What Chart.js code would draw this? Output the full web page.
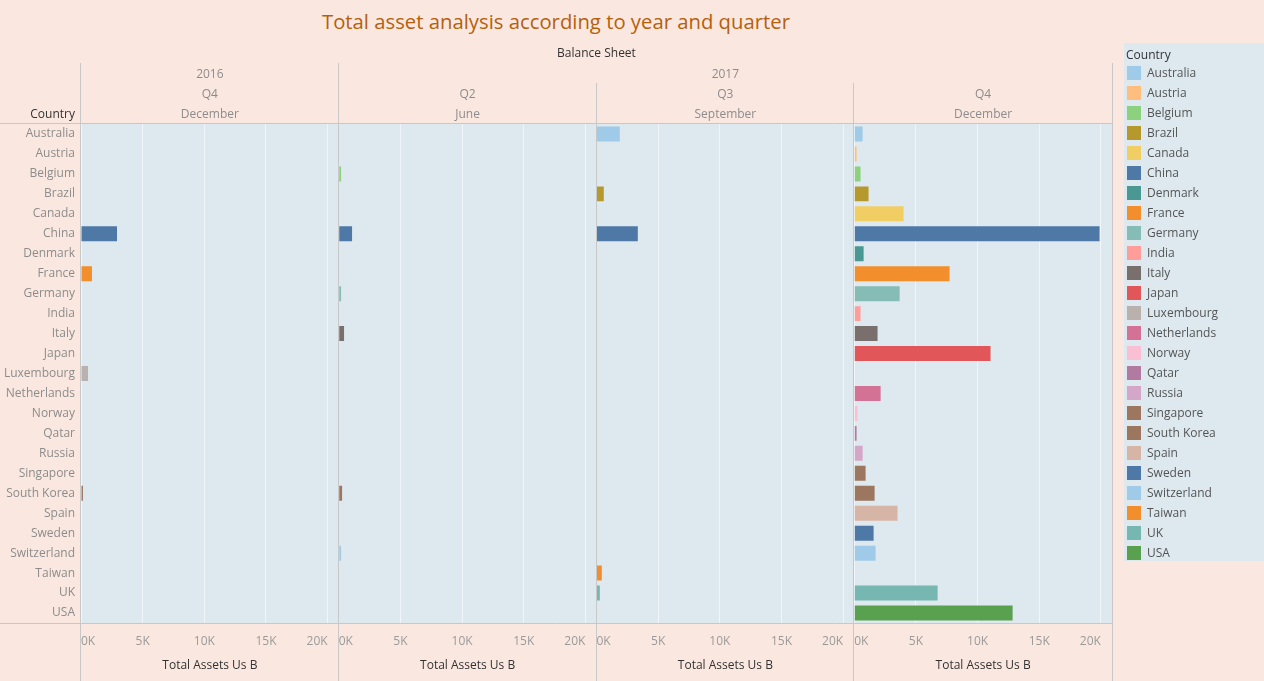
<!DOCTYPE html>
<html>
<head>
<meta charset="utf-8">
<title>Total asset analysis according to year and quarter</title>
<script src="https://cdn.jsdelivr.net/npm/chart.js@4.4.1/dist/chart.umd.min.js"></script>
<style>
  html, body { margin: 0; padding: 0; }
  body {
    width: 1264px; height: 681px; position: relative; overflow: hidden;
    background: #fae8e0; font-family: "Open Sans", sans-serif;
  }
  #chart { position: absolute; left: 0; top: 0; }
  .txt { position: absolute; white-space: nowrap; font-size: 12px; line-height: 16px; transform: translate(-50%, -50%); }
  .hdr { color: #8c8c8c; }
  .dark { color: #333; }
  #title { position: absolute; left: 322px; top: 7px; font-size: 20.3px; line-height: 28px; color: #b5600c; white-space: nowrap; }
  #legend { position: absolute; left: 1124px; top: 43px; width: 140px; height: 518px; background: #dde9ef; }
  #legend .lg-title { position: absolute; left: 2px; top: 4px; font-size: 12px; line-height: 16px; color: #333; }
  #legend .item { position: absolute; left: 3px; height: 20px; font-size: 12px; line-height: 20px; color: #555; white-space: nowrap; }
  #legend .sw { position: absolute; left: 0; top: 3px; width: 14px; height: 14px; }
  #legend .lb { position: absolute; left: 20px; top: 0; }
</style>
</head>
<body>
<div id="title">Total asset analysis according to year and quarter</div>
<canvas id="chart" width="1264" height="681"></canvas>
<div id="legend"><div class="lg-title">Country</div></div>

<script>
// ---- data (Total Assets, US$ bn) ----
const countries = ['Australia', 'Austria', 'Belgium', 'Brazil', 'Canada', 'China', 'Denmark', 'France',
    'Germany', 'India', 'Italy', 'Japan', 'Luxembourg', 'Netherlands', 'Norway', 'Qatar', 'Russia',
    'Singapore', 'South Korea', 'Spain', 'Sweden', 'Switzerland', 'Taiwan', 'UK', 'USA'];

const countryColors = ['#a0cbe8', '#ffbe7d', '#8cd17d', '#b6992d', '#f1ce63', '#4e79a7', '#499894', '#f28e2b',
    '#86bcb6', '#ff9d9a', '#79706e', '#e15759', '#bab0ac', '#d37295', '#fabfd2', '#b07aa1', '#d4a6c8',
    '#9d7660', '#9d7660', '#d7b5a6', '#4e79a7', '#a0cbe8', '#f28e2b', '#76b7b2', '#59a14f'];

const years    = ['2016', '2017'];
const quarters = ['Q4', 'Q2', 'Q3', 'Q4'];
const months   = ['December', 'June', 'September', 'December'];
const panelYear = [0, 1, 1, 1];

const dec2016 = [null, null, null, null, null, 2920, null, 890, null, null, null, null, 570, null, null, null, null,
    null, 160, null, null, null, null, null, null];
const jun2017 = [null, null, 190, null, null, 1080, null, null, 190, null, 430, null, null, null, null, null, null,
    null, 270, null, null, 190, null, null, null];
const sep2017 = [1890, null, null, 590, null, 3350, null, null, null, null, null, null, null, null, null, null, null,
    null, null, null, null, null, 430, 270, null];
const dec2017 = [680, 190, 510, 1160, 4000, 19890, 760, 7730, 3680, 510, 1890, 11050, null, 2140, 270, 190, 680,
    920, 1650, 3510, 1570, 1730, null, 6760, 12840];

const xTicks = [0, 5000, 10000, 15000, 20000];
const X_MAX = 20900;
const AXIS_TITLE = 'Total Assets Us B';

const panels = [dec2016, jun2017, sep2017, dec2017];

const FONT = '"Open Sans", sans-serif';
const PLOT_BG = '#dde9ef';
const SEP = '#c8c8c8';

// plot background + Tableau-like pane separators
const frame = {
    id: 'frame',
    beforeDraw(chart) {
        const { ctx, chartArea: a } = chart;
        ctx.save();
        ctx.fillStyle = PLOT_BG;
        ctx.fillRect(a.left, a.top, a.right - a.left, a.bottom - a.top);
        ctx.restore();
    },
    afterDraw(chart) {
        const { ctx, chartArea: a, height } = chart;
        ctx.save();
        ctx.strokeStyle = SEP;
        ctx.lineWidth = 1;
        ctx.beginPath();
        panels.forEach((p, i) => {
            const s = chart.scales['x' + i];
            const x = Math.round(s.left) - 0.5;
            const top = (i === 0 || panelYear[i] !== panelYear[i - 1]) ? 63 : 83;
            ctx.moveTo(x, top); ctx.lineTo(x, height);
        });
        const xr = Math.round(a.right) + 0.5;
        ctx.moveTo(xr, 63); ctx.lineTo(xr, height);
        ctx.moveTo(0, Math.round(a.top) - 0.5); ctx.lineTo(xr, Math.round(a.top) - 0.5);
        ctx.moveTo(0, Math.round(a.bottom) + 0.5); ctx.lineTo(xr, Math.round(a.bottom) + 0.5);
        ctx.stroke();
        ctx.restore();
    }
};

function panelScale() {
    return {
        type: 'linear',
        position: 'bottom',
        stack: 'panes',
        stackWeight: 1,
        min: 0,
        max: X_MAX,
        afterBuildTicks: s => { s.ticks = xTicks.map(v => ({ value: v })); },
        afterFit: s => { s.height = 58; },
        ticks: {
            align: 'inner',
            padding: 11,
            maxRotation: 0,
            autoSkip: false,
            color: '#9a9a9a',
            font: { family: FONT, size: 12 },
            callback: v => (v / 1000) + 'K'
        },
        grid: { color: '#f1f5f7', drawTicks: false },
        border: { display: false },
        title: {
            display: true,
            text: AXIS_TITLE,
            color: '#333',
            font: { family: FONT, size: 12 },
            padding: { top: 0, bottom: 8 }
        }
    };
}

const scales = {
    y: {
        type: 'category',
        afterFit: s => { s.width = 81; },
        ticks: { color: '#8c8c8c', padding: 6, autoSkip: false, font: { family: FONT, size: 12 } },
        grid: { display: false, drawTicks: false },
        border: { display: false }
    }
};
panels.forEach((p, i) => { scales['x' + i] = panelScale(); });

const chart = new Chart(document.getElementById('chart'), {
    type: 'bar',
    data: {
        labels: countries,
        datasets: panels.map((vals, i) => ({
            label: years[panelYear[i]] + ' ' + quarters[i] + ' ' + months[i],
            data: vals,
            xAxisID: 'x' + i,
            yAxisID: 'y',
            backgroundColor: countryColors,
            grouped: false,
            barPercentage: 0.75,
            categoryPercentage: 1,
            borderWidth: 0
        }))
    },
    options: {
        indexAxis: 'y',
        responsive: false,
        animation: false,
        layout: { padding: { left: 0, top: 124, right: 152, bottom: 0 } },
        plugins: { legend: { display: false }, tooltip: { enabled: false } },
        scales: scales
    },
    plugins: [frame]
});

// header texts placed over the panes
function addText(text, x, y, cls) {
    const d = document.createElement('div');
    d.className = 'txt ' + cls;
    d.textContent = text;
    d.style.left = x + 'px';
    d.style.top = y + 'px';
    document.body.appendChild(d);
    return d;
}

const paneL = panels.map((p, i) => chart.scales['x' + i].left);
const paneR = panels.map((p, i) => chart.scales['x' + i].right);

addText('Balance Sheet', (paneL[0] + paneR[3]) / 2, 53, 'dark');
years.forEach((yr, yi) => {
    const idx = panelYear.map((v, i) => v === yi ? i : -1).filter(i => i >= 0);
    addText(yr, (paneL[idx[0]] + paneR[idx[idx.length - 1]]) / 2, 74, 'hdr');
});
quarters.forEach((q, i) => addText(q, (paneL[i] + paneR[i]) / 2, 94, 'hdr'));
months.forEach((m, i) => addText(m, (paneL[i] + paneR[i]) / 2, 114, 'hdr'));

const ch = addText('Country', 75, 114, 'dark');
ch.style.transform = 'translate(-100%, -50%)';

// legend
const legend = document.getElementById('legend');
countries.forEach((c, i) => {
    const it = document.createElement('div');
    it.className = 'item';
    it.style.top = (20 + i * 20) + 'px';
    it.innerHTML = '<span class="sw" style="background:' + countryColors[i] + '"></span><span class="lb"></span>';
    it.querySelector('.lb').textContent = c;
    legend.appendChild(it);
});
</script>
</body>
</html>
